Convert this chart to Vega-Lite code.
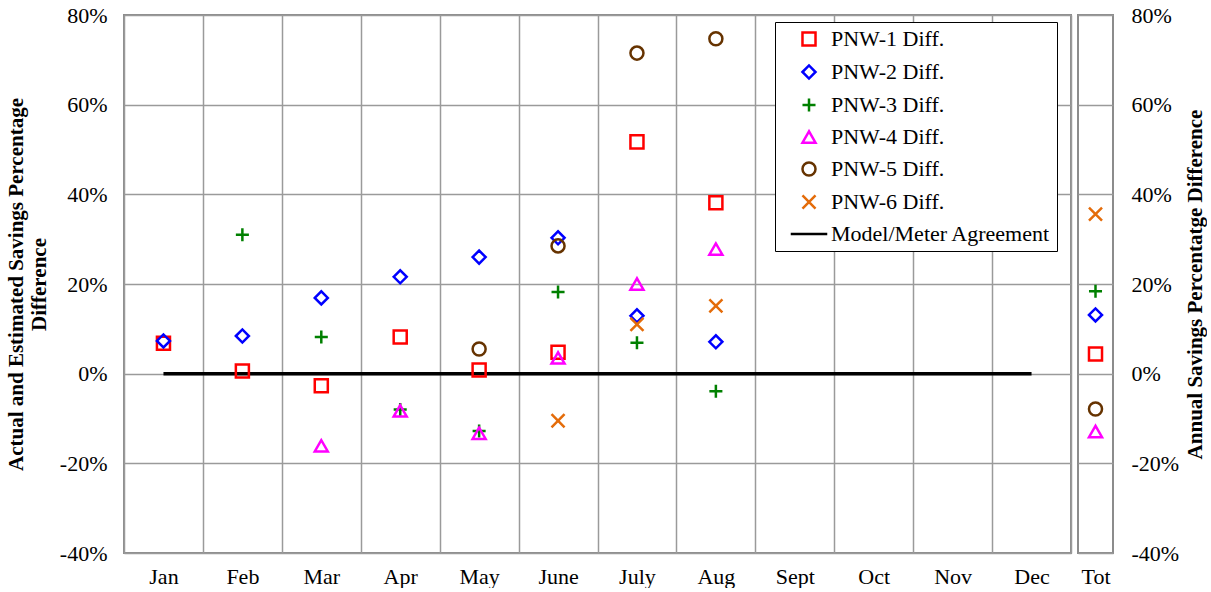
{
  "$schema": "https://vega.github.io/schema/vega-lite/v6.json",
  "padding": {"left": 4, "top": 3, "right": 0, "bottom": 0},
  "background": "white",
  "config": {
    "font": "Liberation Serif",
    "view": {"stroke": "#8c8c8c", "strokeWidth": 2},
    "axis": {
      "labelFont": "Liberation Serif",
      "labelFontSize": 22,
      "labelColor": "black",
      "titleFont": "Liberation Serif",
      "titleFontSize": 21,
      "titleFontWeight": "bold",
      "titleColor": "black",
      "gridColor": "#9a9a9a",
      "gridWidth": 1.5,
      "gridOpacity": 1,
      "ticks": false,
      "tickSize": 0,
      "domain": false
    }
  },
  "datasets": {
    "monthly": [
      {"month": "Jan", "series": "PNW-1 Diff.", "value": 0.068},
      {"month": "Jan", "series": "PNW-2 Diff.", "value": 0.073},
      {"month": "Feb", "series": "PNW-1 Diff.", "value": 0.006},
      {"month": "Feb", "series": "PNW-2 Diff.", "value": 0.084},
      {"month": "Feb", "series": "PNW-3 Diff.", "value": 0.31},
      {"month": "Mar", "series": "PNW-1 Diff.", "value": -0.027},
      {"month": "Mar", "series": "PNW-2 Diff.", "value": 0.169},
      {"month": "Mar", "series": "PNW-3 Diff.", "value": 0.082},
      {"month": "Mar", "series": "PNW-4 Diff.", "value": -0.161},
      {"month": "Apr", "series": "PNW-1 Diff.", "value": 0.082},
      {"month": "Apr", "series": "PNW-2 Diff.", "value": 0.216},
      {"month": "Apr", "series": "PNW-3 Diff.", "value": -0.08},
      {"month": "Apr", "series": "PNW-4 Diff.", "value": -0.083},
      {"month": "May", "series": "PNW-1 Diff.", "value": 0.008},
      {"month": "May", "series": "PNW-2 Diff.", "value": 0.26},
      {"month": "May", "series": "PNW-3 Diff.", "value": -0.128},
      {"month": "May", "series": "PNW-4 Diff.", "value": -0.133},
      {"month": "May", "series": "PNW-5 Diff.", "value": 0.055},
      {"month": "June", "series": "PNW-1 Diff.", "value": 0.048},
      {"month": "June", "series": "PNW-2 Diff.", "value": 0.303},
      {"month": "June", "series": "PNW-3 Diff.", "value": 0.182},
      {"month": "June", "series": "PNW-4 Diff.", "value": 0.035},
      {"month": "June", "series": "PNW-5 Diff.", "value": 0.285},
      {"month": "June", "series": "PNW-6 Diff.", "value": -0.105},
      {"month": "July", "series": "PNW-1 Diff.", "value": 0.517},
      {"month": "July", "series": "PNW-2 Diff.", "value": 0.129},
      {"month": "July", "series": "PNW-3 Diff.", "value": 0.069},
      {"month": "July", "series": "PNW-4 Diff.", "value": 0.2},
      {"month": "July", "series": "PNW-5 Diff.", "value": 0.715},
      {"month": "July", "series": "PNW-6 Diff.", "value": 0.11},
      {"month": "Aug", "series": "PNW-1 Diff.", "value": 0.381},
      {"month": "Aug", "series": "PNW-2 Diff.", "value": 0.071},
      {"month": "Aug", "series": "PNW-3 Diff.", "value": -0.039},
      {"month": "Aug", "series": "PNW-4 Diff.", "value": 0.278},
      {"month": "Aug", "series": "PNW-5 Diff.", "value": 0.747},
      {"month": "Aug", "series": "PNW-6 Diff.", "value": 0.151}
    ],
    "agreement": [
      {"month": "Jan", "value": 0},
      {"month": "Dec", "value": 0}
    ],
    "total": [
      {"month": "Tot", "series": "PNW-1 Diff.", "value": 0.044},
      {"month": "Tot", "series": "PNW-2 Diff.", "value": 0.131},
      {"month": "Tot", "series": "PNW-3 Diff.", "value": 0.184},
      {"month": "Tot", "series": "PNW-4 Diff.", "value": -0.129},
      {"month": "Tot", "series": "PNW-5 Diff.", "value": -0.079},
      {"month": "Tot", "series": "PNW-6 Diff.", "value": 0.356}
    ]
  },
  "resolve": {"scale": {"color": "independent", "shape": "independent", "y": "shared"}},
  "spacing": 5,
  "hconcat": [
    {
      "width": 947,
      "height": 538,
      "layer": [
        {
          "data": {"name": "agreement"},
          "mark": {"type": "line", "color": "black", "strokeWidth": 3.5},
          "encoding": {
            "x": {
              "field": "month", "type": "nominal",
              "scale": {"domain": ["Jan","Feb","Mar","Apr","May","June","July","Aug","Sept","Oct","Nov","Dec"], "paddingInner": 0, "paddingOuter": 0},
              "axis": {"orient": "bottom", "grid": true, "tickBand": "extent", "labelAngle": 0, "labelPadding": 13, "title": null}
            },
            "y": {"field": "value", "type": "quantitative"}
          }
        },
        {
          "data": {"name": "monthly"},
          "mark": {"type": "point", "filled": false, "strokeWidth": 2.5, "size": 170, "opacity": 1},
          "encoding": {
            "x": {"field": "month", "type": "nominal"},
            "y": {
              "field": "value", "type": "quantitative",
              "scale": {"domain": [-0.4, 0.8], "nice": false, "zero": false},
              "axis": {"values": [-0.4,-0.2,0,0.2,0.4,0.6,0.8],
                "labelExpr": "(datum.value < -0.001 ? '-' : '') + format(abs(datum.value) * 100, '.0f') + '%'",
                "grid": true, "labelPadding": 17, "titlePadding": 10,
                "title": ["Actual and Estimated Savings Percentage", "Difference"]}
            },
            "color": {
              "field": "series", "type": "nominal",
              "scale": {
                "domain": ["PNW-1 Diff.","PNW-2 Diff.","PNW-3 Diff.","PNW-4 Diff.","PNW-5 Diff.","PNW-6 Diff.","Model/Meter Agreement"],
                "range": ["#ff0000","#0000ff","#008000","#ff00ff","#663300","#e46c0a","#000000"]
              },
              "legend": {
                "orient": "none", "legendX": 651, "legendY": 7, "title": null,
                "strokeColor": "black", "fillColor": "white", "padding": 6,
                "labelFont": "Liberation Serif", "labelFontSize": 22, "labelColor": "black",
                "symbolSize": 170, "symbolStrokeWidth": 2.5, "symbolOffset": 17, "labelOffset": 11,
                "rowPadding": 9, "labelLimit": 400
              }
            },
            "shape": {
              "field": "series", "type": "nominal",
              "scale": {
                "domain": ["PNW-1 Diff.","PNW-2 Diff.","PNW-3 Diff.","PNW-4 Diff.","PNW-5 Diff.","PNW-6 Diff.","Model/Meter Agreement"],
                "range": ["square","diamond","M-1,0H1M0,-1V1","triangle-up","circle","M-1,-1L1,1M-1,1L1,-1","M-2.8,0H2.8"]
              },
              "legend": {
                "orient": "none", "legendX": 651, "legendY": 7, "title": null,
                "strokeColor": "black", "fillColor": "white", "padding": 6,
                "labelFont": "Liberation Serif", "labelFontSize": 22, "labelColor": "black",
                "symbolSize": 170, "symbolStrokeWidth": 2.5, "symbolOffset": 17, "labelOffset": 11,
                "rowPadding": 9, "labelLimit": 400
              }
            }
          }
        }
      ]
    },
    {
      "width": 35,
      "height": 538,
      "data": {"name": "total"},
      "mark": {"type": "point", "filled": false, "strokeWidth": 2.5, "size": 170, "opacity": 1},
      "encoding": {
        "x": {
          "field": "month", "type": "nominal",
          "scale": {"paddingInner": 0, "paddingOuter": 0},
          "axis": {"orient": "bottom", "grid": false, "labelAngle": 0, "labelPadding": 13, "title": null}
        },
        "y": {
          "field": "value", "type": "quantitative",
          "scale": {"domain": [-0.4, 0.8], "nice": false, "zero": false},
          "axis": {"orient": "right", "values": [-0.4,-0.2,0,0.2,0.4,0.6,0.8],
            "labelExpr": "(datum.value < -0.001 ? '-' : '') + format(abs(datum.value) * 100, '.0f') + '%'",
            "grid": true, "labelPadding": 18, "titlePadding": 6, "titleAngle": 270, "titleBaseline": "top",
            "title": "Annual Savings Percentatge Difference"}
        },
        "color": {
          "field": "series", "type": "nominal",
          "scale": {
            "domain": ["PNW-1 Diff.","PNW-2 Diff.","PNW-3 Diff.","PNW-4 Diff.","PNW-5 Diff.","PNW-6 Diff.","Model/Meter Agreement"],
            "range": ["#ff0000","#0000ff","#008000","#ff00ff","#663300","#e46c0a","#000000"]
          },
          "legend": null
        },
        "shape": {
          "field": "series", "type": "nominal",
          "scale": {
            "domain": ["PNW-1 Diff.","PNW-2 Diff.","PNW-3 Diff.","PNW-4 Diff.","PNW-5 Diff.","PNW-6 Diff.","Model/Meter Agreement"],
            "range": ["square","diamond","M-1,0H1M0,-1V1","triangle-up","circle","M-1,-1L1,1M-1,1L1,-1","M-2.8,0H2.8"]
          },
          "legend": null
        }
      }
    }
  ]
}
